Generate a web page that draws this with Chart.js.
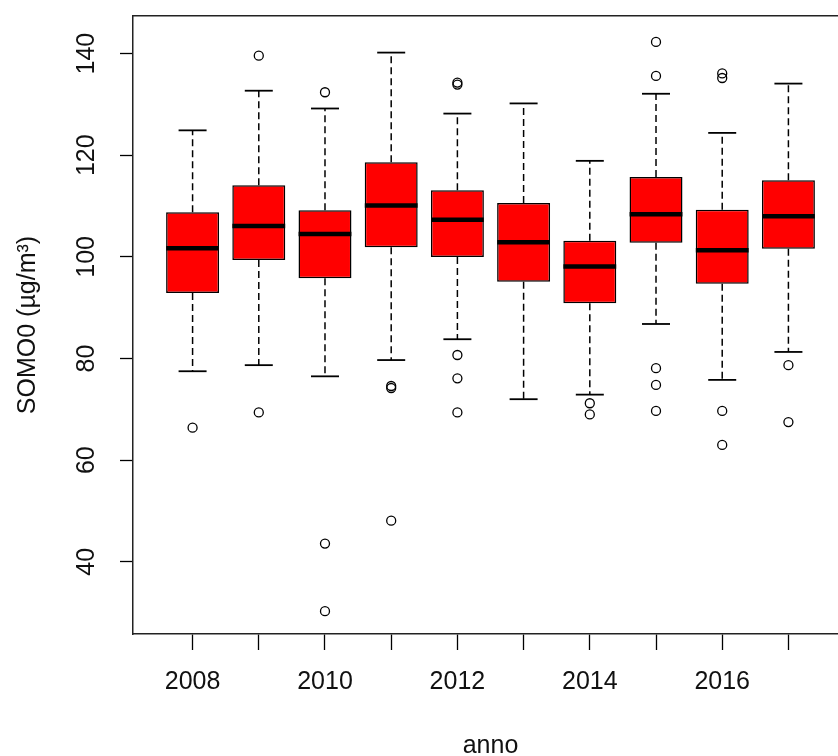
<!DOCTYPE html>
<html>
<head>
<meta charset="utf-8">
<script src="https://cdn.jsdelivr.net/npm/chart.js@4.4.1/dist/chart.umd.min.js"></script>
<style>
  html, body { margin: 0; padding: 0; background: #ffffff; overflow: hidden; }
  #wrap { width: 838px; height: 756px; overflow: hidden; position: relative; }
  #holder { width: 862px; height: 756px; position: absolute; left: 0; top: 0; }
</style>
</head>
<body>
<div id="wrap"><div id="holder"><canvas id="c" width="862" height="756"></canvas></div></div>
<script>
// ---- data ----
const years        = ['2008','2009','2010','2011','2012','2013','2014','2015','2016','2017'];
const xTickLabels  = ['2008','','2010','','2012','','2014','','2016',''];
const whiskerLow   = [77.5, 78.7, 76.5, 79.7, 83.8, 72.0, 72.9, 86.8, 75.8, 81.3];
const q1           = [92.9, 99.4, 95.8, 101.9, 100.0, 95.1, 90.9, 102.8, 94.7, 101.6];
const median       = [101.7, 106.1, 104.5, 110.1, 107.3, 102.9, 98.1, 108.4, 101.3, 108.0];
const q3           = [108.8, 114.1, 109.2, 118.6, 113.1, 110.6, 103.2, 115.7, 109.3, 115.1];
const whiskerHigh  = [124.9, 132.7, 129.2, 140.2, 128.2, 130.2, 118.9, 132.1, 124.4, 134.1];
const outliers     = [
  [66.4],
  [69.4, 139.6],
  [43.6, 30.3, 132.4],
  [74.2, 74.6, 48.1],
  [80.7, 76.1, 69.4, 133.9, 134.3],
  [],
  [71.2, 69.0],
  [78.1, 74.8, 69.7, 135.6, 142.3],
  [69.7, 63.0, 135.2, 136.1],
  [78.7, 67.5]
];
const yTicks = [40, 60, 80, 100, 120, 140];
const yTitle = 'SOMO0 (µg/m³)';
const xTitle = 'anno';

// ---- build library datasets from the arrays ----
const pos = years.map((_, i) => i + 1);
const upperWhiskers = [], lowerWhiskers = [];
pos.forEach((p, i) => {
  upperWhiskers.push({x: p, y: q3[i]}, {x: p, y: whiskerHigh[i]}, {x: p, y: null});
  lowerWhiskers.push({x: p, y: q1[i]}, {x: p, y: whiskerLow[i]}, {x: p, y: null});
});
const caps = [];
pos.forEach((p, i) => { caps.push({x: p, y: whiskerLow[i]}, {x: p, y: whiskerHigh[i]}); });
const boxes = pos.map((p, i) => ({x: p, y: [q1[i], q3[i]]}));
const medians = pos.map((p, i) => ({x: p, y: median[i]}));
const outPts = [];
pos.forEach((p, i) => outliers[i].forEach(v => outPts.push({x: p, y: v})));

const FONT = 'Liberation Sans, Arial, sans-serif';

new Chart(document.getElementById('c'), {
  data: {
    datasets: [
      { type: 'line', data: upperWhiskers, borderColor: '#000', borderWidth: 1.5,
        borderDash: [7, 4], pointRadius: 0, spanGaps: false, fill: false, order: 4 },
      { type: 'line', data: lowerWhiskers, borderColor: '#000', borderWidth: 1.5,
        borderDash: [7, 4], pointRadius: 0, spanGaps: false, fill: false, order: 4 },
      { type: 'scatter', data: caps, pointStyle: 'line', pointRadius: 14,
        borderColor: '#000', borderWidth: 1.8, order: 3 },
      { type: 'bar', data: boxes, backgroundColor: '#ff0000', borderColor: '#000',
        borderWidth: 1.5, borderSkipped: false, categoryPercentage: 0.8, barPercentage: 1.0, order: 2 },
      { type: 'scatter', data: medians, pointStyle: 'line', pointRadius: 26.4,
        borderColor: '#000', borderWidth: 4.5, order: 1 },
      { type: 'scatter', data: outPts, pointStyle: 'circle', pointRadius: 4.5,
        backgroundColor: 'rgba(0,0,0,0)', borderColor: '#000', borderWidth: 1.3, order: 0 }
    ]
  },
  options: {
    responsive: false,
    animation: false,
    events: [],
    layout: { autoPadding: false, padding: { left: 0, top: 16, right: 14, bottom: 0 } },
    plugins: { legend: { display: false }, tooltip: { enabled: false } },
    scales: {
      x: {
        type: 'linear', position: 'bottom', min: 0.1, max: 10.9, offset: false,
        afterBuildTicks: s => { s.ticks = pos.map(v => ({value: v})); },
        afterFit: s => { s.height = 122; s.paddingLeft = 0; s.paddingRight = 0; },
        grid: { display: true, offset: false, drawOnChartArea: false, drawTicks: true, tickLength: 16,
                color: '#000', tickColor: '#000', tickWidth: 1.3 },
        border: { display: true, color: '#222', width: 1.5 },
        ticks: { autoSkip: false, maxRotation: 0, minRotation: 0, padding: 17, color: '#111',
                 font: { family: FONT, size: 25 },
                 callback: (v) => xTickLabels[Math.round(v) - 1] },
        title: { display: true, text: xTitle, color: '#111', font: { family: FONT, size: 25, lineHeight: 0.8 },
                 padding: { top: 0, bottom: 0 } }
      },
      xTop: {
        type: 'linear', position: 'top', min: 0.1, max: 10.9, offset: false,
        afterFit: s => { s.height = 0; s.paddingLeft = 0; s.paddingRight = 0; },
        grid: { display: false },
        border: { display: true, color: '#222', width: 1.5 },
        ticks: { display: false }
      },
      y: {
        type: 'linear', position: 'left', min: 25.8, max: 147.4,
        afterBuildTicks: s => { s.ticks = yTicks.map(v => ({value: v})); },
        afterFit: s => { s.width = 133; s.paddingTop = 0; s.paddingBottom = 0; },
        grid: { display: true, drawOnChartArea: false, drawTicks: true, tickLength: 13,
                color: '#000', tickColor: '#000', tickWidth: 1.3 },
        border: { display: true, color: '#222', width: 1.5 },
        ticks: { minRotation: 90, maxRotation: 90, crossAlign: 'center', padding: 12, color: '#111',
                 font: { family: FONT, size: 25 } },
        title: { display: true, text: yTitle, color: '#111', font: { family: FONT, size: 25 },
                 padding: { top: 13, bottom: 0 } }
      }
    }
  }
});
</script>
</body>
</html>
